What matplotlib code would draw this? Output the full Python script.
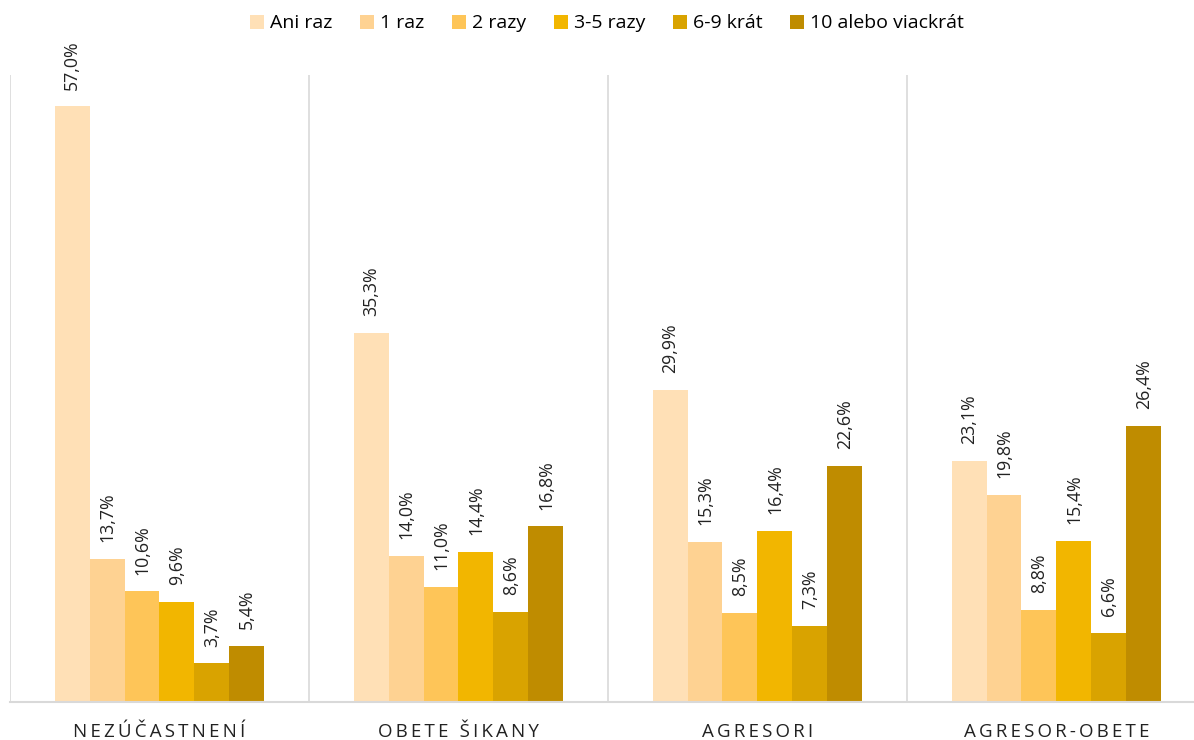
import matplotlib
matplotlib.use("Agg")
import matplotlib.pyplot as plt
import numpy as np

plt.rcParams['font.family'] = ['Open Sans', 'DejaVu Sans']

groups = ['NEZÚČASTNENÍ', 'OBETE ŠIKANY', 'AGRESORI', 'AGRESOR-OBETE']
series = ['Ani raz', '1 raz', '2 razy', '3-5 razy', '6-9 krát', '10 alebo viackrát']
values = [
    [57.0, 35.3, 29.9, 23.1],
    [13.7, 14.0, 15.3, 19.8],
    [10.6, 11.0, 8.5, 8.8],
    [9.6, 14.4, 16.4, 15.4],
    [3.7, 8.6, 7.3, 6.6],
    [5.4, 16.8, 22.6, 26.4],
]
colors = ['#FFE0B6', '#FED292', '#FEC558', '#F2B600', '#D9A300', '#BF8C00']

fig = plt.figure(figsize=(11.94, 7.4), dpi=100)
ax = fig.add_axes([10 / 1194, 38 / 740, 1184 / 1194, 627 / 740])

x = np.arange(len(groups))
w = 0.117
for i, (name, vals) in enumerate(zip(series, values)):
    pos = x + (i - 2.5) * w
    ax.bar(pos, vals, width=w, color=colors[i], label=name, zorder=2)
    for p, v in zip(pos, vals):
        ax.text(p, v + 1.6, f"{v:.1f}%".replace('.', ','), rotation=90,
                ha='center', va='bottom', fontsize=12.8, color='#222222')

ax.set_ylim(0, 60)
ax.set_xlim(-0.5, 3.46)
for b in [-0.5, 0.5, 1.5, 2.5]:
    ax.axvline(b, color='#D9D9D9', lw=1.2, zorder=1)

for s in ['top', 'right', 'left']:
    ax.spines[s].set_visible(False)
ax.spines['bottom'].set_color('#D9D9D9')
ax.spines['bottom'].set_linewidth(1.5)
ax.set_yticks([])
ax.set_xticks(x)
ax.set_xticklabels(['\u2009'.join(g) for g in groups], fontsize=13.5, color='#222222')
ax.tick_params(axis='x', length=0, pad=15)

ax.legend(loc='lower center', bbox_to_anchor=(0.5 + 5 / 1184, 1.04), ncol=6, frameon=False,
          fontsize=14, handlelength=0.75, handleheight=0.75, handletextpad=0.3,
          columnspacing=1.4)

fig.savefig('out.png', dpi=100)
